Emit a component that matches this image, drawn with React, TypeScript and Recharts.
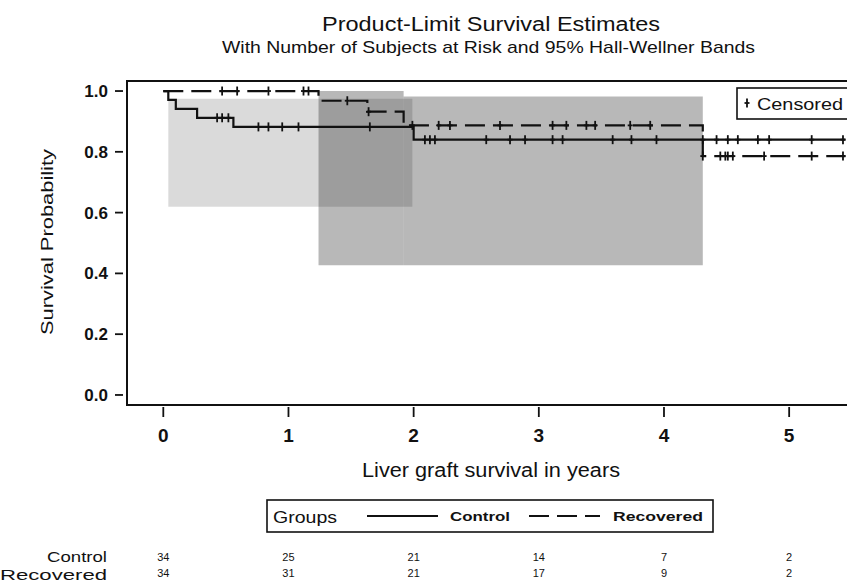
import React from 'react';
import { ComposedChart, Line, Scatter, XAxis, YAxis, ReferenceArea } from 'recharts';

// step curves: time of each step and survival after it
const controlT = [0, 0.04, 0.1, 0.27, 0.56, 2.0, 5.45];
const controlS = [1.0, 0.971, 0.941, 0.912, 0.882, 0.84, 0.84];
const recoveredT = [0, 1.24, 1.63, 1.92, 4.31, 5.45];
const recoveredS = [1.0, 0.968, 0.932, 0.887, 0.786, 0.786];

// censored observation times
const controlCensor = [0.43, 0.47, 0.52, 0.76, 0.84, 0.95, 1.08, 1.65, 2.09, 2.13, 2.17, 2.58, 2.77, 2.89, 3.11, 3.19, 3.59, 3.74, 3.94, 4.31, 4.42, 4.51, 4.59, 4.75, 4.84, 5.18, 5.43];
const recoveredCensor = [0.47, 0.59, 0.84, 1.12, 1.16, 1.47, 1.64, 1.99, 2.2, 2.29, 2.69, 3.11, 3.22, 3.38, 3.45, 3.73, 3.89, 4.31, 4.45, 4.49, 4.51, 4.55, 4.8, 5.18, 5.43];

// Hall-Wellner bands (rectangular pieces)
const bandFrom = [0.04, 1.24, 1.92];
const bandTo = [1.99, 1.92, 4.31];
const bandLow = [0.619, 0.427, 0.427];
const bandHigh = [0.975, 1.0, 0.982];
const bandOpacity = [0.145, 0.28, 0.28];

const xTicks = [0, 1, 2, 3, 4, 5];
const yTicks = [0, 0.2, 0.4, 0.6, 0.8, 1.0];
const riskControl = [34, 25, 21, 14, 7, 2];
const riskRecovered = [34, 31, 21, 17, 9, 2];

const FONT = '"Liberation Sans", Arial, sans-serif';
const INK = '#111';
const X_DOMAIN: [number, number] = [-0.29, 5.51];
const Y_DOMAIN: [number, number] = [-0.033, 1.033];

const stepAt = (ts: number[], ss: number[], t: number) => {
  let v = ss[0];
  ts.forEach((tt, i) => { if (tt <= t) v = ss[i]; });
  return v;
};

const controlLine = controlT.map((t, i) => ({ t, s: controlS[i] }));
const recoveredLine = recoveredT.map((t, i) => ({ t, s: recoveredS[i] }));
const controlMarks = controlCensor.map((t) => ({ t, s: stepAt(controlT, controlS, t) }));
const recoveredMarks = recoveredCensor.map((t) => ({ t, s: stepAt(recoveredT, recoveredS, t) }));

function Plus({ cx, cy }: { cx?: number; cy?: number }) {
  if (cx == null || cy == null) return null;
  return (
    <g stroke={INK} strokeWidth={1.8}>
      <line x1={cx} x2={cx} y1={cy - 4.5} y2={cy + 4.5} />
      <line x1={cx - 2.5} x2={cx + 2.5} y1={cy} y2={cy} />
    </g>
  );
}

function XTick(props: any) {
  const { x, y, payload } = props;
  const i = xTicks.indexOf(payload.value);
  return (
    <g fontFamily={FONT} fill={INK}>
      <line x1={x} x2={x} y1={y + 2} y2={y + 12} stroke={INK} strokeWidth={1.8} />
      <text x={x} y={y + 37} textAnchor="middle" fontSize={19} fontWeight="bold">{payload.value}</text>
      <text x={x} y={y + 156} textAnchor="middle" fontSize={11}>{riskControl[i]}</text>
      <text x={x} y={y + 172} textAnchor="middle" fontSize={11}>{riskRecovered[i]}</text>
    </g>
  );
}

function YTick(props: any) {
  const { x, y, payload } = props;
  return (
    <g fontFamily={FONT} fill={INK}>
      <line x1={x - 12} x2={x - 4} y1={y} y2={y} stroke={INK} strokeWidth={1.8} />
      <text x={x - 19} y={y + 6} textAnchor="end" fontSize={17} fontWeight="bold">{payload.value.toFixed(1)}</text>
    </g>
  );
}

export default function App() {
  return (
    <div style={{ position: 'absolute', left: 0, top: 0, width: 847, height: 588, overflow: 'hidden', background: '#fff' }}>
      <ComposedChart width={870} height={588} margin={{ top: 81, right: 17, bottom: 0, left: 0 }}>
        <XAxis type="number" dataKey="t" domain={X_DOMAIN} ticks={xTicks} interval={0} allowDataOverflow
          tick={XTick} tickLine={false} axisLine={false} tickSize={0} tickMargin={0} height={183} />
        <YAxis type="number" dataKey="s" domain={Y_DOMAIN} ticks={yTicks} interval={0} allowDataOverflow
          tick={YTick} tickLine={false} axisLine={false} tickSize={0} tickMargin={0} width={127} />
        {bandFrom.map((b, i) => (
          <ReferenceArea key={i} x1={b} x2={bandTo[i]} y1={bandLow[i]} y2={bandHigh[i]}
            fill="#000" fillOpacity={bandOpacity[i]} stroke="none" />
        ))}
        <Line data={controlLine} dataKey="s" type="stepAfter" stroke={INK} strokeWidth={2.2} dot={false} isAnimationActive={false} />
        <Line data={recoveredLine} dataKey="s" type="stepAfter" stroke={INK} strokeWidth={2.2} strokeDasharray="20 8" dot={false} isAnimationActive={false} />
        <Scatter data={controlMarks} dataKey="s" shape={(p: any) => <Plus cx={p.cx} cy={p.cy} />} isAnimationActive={false} />
        <Scatter data={recoveredMarks} dataKey="s" shape={(p: any) => <Plus cx={p.cx} cy={p.cy} />} isAnimationActive={false} />
        <ReferenceArea x1={X_DOMAIN[0]} x2={X_DOMAIN[1]} y1={Y_DOMAIN[0]} y2={Y_DOMAIN[1]} fill="none" stroke={INK} strokeWidth={2} fillOpacity={0} />
      </ComposedChart>
      <svg width={847} height={588} style={{ position: 'absolute', left: 0, top: 0, pointerEvents: 'none' }} fontFamily={FONT} fill={INK}>
        <text x={491} y={31} textAnchor="middle" fontSize={19.5} textLength={338} lengthAdjust="spacingAndGlyphs">Product-Limit Survival Estimates</text>
        <text x={488.5} y={53} textAnchor="middle" fontSize={17} textLength={533} lengthAdjust="spacingAndGlyphs">With Number of Subjects at Risk and 95% Hall-Wellner Bands</text>
        <text transform="translate(53,242) rotate(-90)" textAnchor="middle" fontSize={17} textLength={186} lengthAdjust="spacingAndGlyphs">Survival Probability</text>
        <text x={491} y={477} textAnchor="middle" fontSize={20} textLength={258} lengthAdjust="spacingAndGlyphs">Liver graft survival in years</text>

        <rect x={737} y={88} width={130} height={31} fill="#fff" stroke={INK} strokeWidth={1.6} />
        <Plus cx={747} cy={103} />
        <text x={757} y={110} fontSize={17} textLength={86} lengthAdjust="spacingAndGlyphs">Censored</text>

        <rect x={267} y={500} width={446} height={32} fill="#fff" stroke={INK} strokeWidth={1.6} />
        <text x={273} y={523} fontSize={16.5} textLength={64} lengthAdjust="spacingAndGlyphs">Groups</text>
        <line x1={367} x2={438} y1={516} y2={516} stroke={INK} strokeWidth={2} />
        <text x={450} y={521} fontSize={13} fontWeight="bold" textLength={60} lengthAdjust="spacingAndGlyphs">Control</text>
        <line x1={529} x2={600} y1={516} y2={516} stroke={INK} strokeWidth={2} strokeDasharray="20 8" />
        <text x={613} y={521} fontSize={13} fontWeight="bold" textLength={90} lengthAdjust="spacingAndGlyphs">Recovered</text>

        <text x={107} y={562} textAnchor="end" fontSize={15} textLength={60} lengthAdjust="spacingAndGlyphs">Control</text>
        <text x={107} y={580} textAnchor="end" fontSize={15} textLength={107} lengthAdjust="spacingAndGlyphs">Recovered</text>
      </svg>
    </div>
  );
}
